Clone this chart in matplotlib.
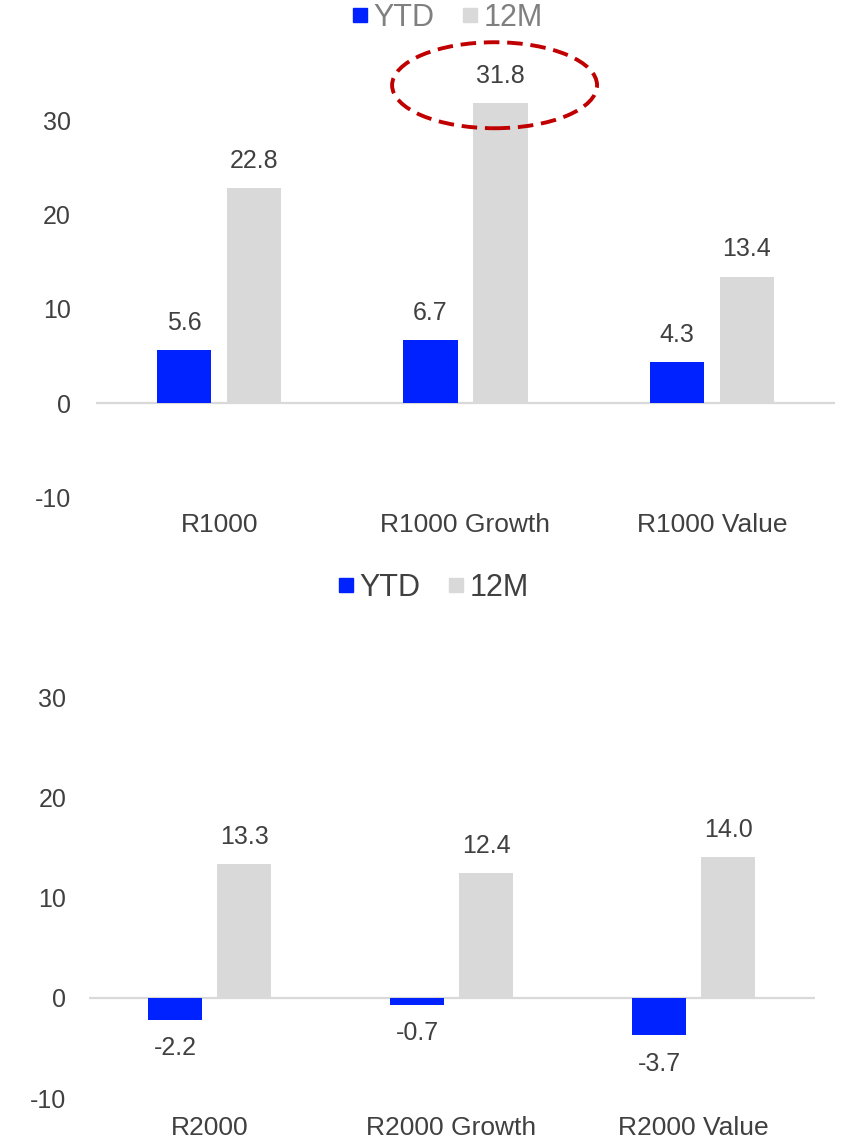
import numpy as np
import matplotlib.pyplot as plt
from matplotlib.patches import Ellipse
from matplotlib.lines import Line2D

plt.rcParams['font.family'] = ['Liberation Sans', 'DejaVu Sans']
plt.rcParams['axes.unicode_minus'] = False

# Data.
large_caps = ['R1000', 'R1000 Growth', 'R1000 Value']
large_ytd = [5.6, 6.7, 4.3]
large_12m = [22.8, 31.8, 13.4]

small_caps = ['R2000', 'R2000 Growth', 'R2000 Value']
small_ytd = [-2.2, -0.7, -3.7]
small_12m = [13.3, 12.4, 14.0]

yticks = [-10, 0, 10, 20, 30]

blue = '#0022FF'
grey = '#D9D9D9'
text_col = '#404040'

W, H = 841, 1144
fig = plt.figure(figsize=(W / 100, H / 100), dpi=100)

ax1 = fig.add_axes([96 / W, 1 - 497.3 / H, 739 / W, 452.6 / H])
ax2 = fig.add_axes([88.5 / W, 1 - 1098 / H, 726 / W, 441 / H])


def draw_panel(ax, cats, ytd, m12, ymax, width, off, ypad, xpad):
    x = np.arange(len(cats))
    ax.bar(x - off, ytd, width, color=blue, zorder=2)
    ax.bar(x + off, m12, width, color=grey, zorder=2)
    ax.axhline(0, color=grey, lw=1.6, zorder=1)
    for xi, v in zip(x - off, ytd):
        ax.annotate('{:.1f}'.format(v), (xi, v), xytext=(0, 11 if v >= 0 else -12),
                    textcoords='offset points', ha='center',
                    va='bottom' if v >= 0 else 'top', fontsize=18, color=text_col)
    for xi, v in zip(x + off, m12):
        ax.annotate('{:.1f}'.format(v), (xi, v), xytext=(0, 11),
                    textcoords='offset points', ha='center', va='bottom',
                    fontsize=18, color=text_col)
    ax.set_xlim(-0.5, len(cats) - 0.5)
    ax.set_ylim(-10, ymax)
    ax.set_yticks(yticks)
    ax.set_xticks(x)
    ax.set_xticklabels(cats)
    ax.tick_params(axis='y', length=0, pad=xpad, labelsize=18, labelcolor=text_col)
    ax.tick_params(axis='x', length=0, pad=ypad, labelsize=19, labelcolor=text_col)
    for s in ax.spines.values():
        s.set_visible(False)


draw_panel(ax1, large_caps, large_ytd, large_12m, 38, 0.22, 0.142, 11, 18)
draw_panel(ax2, small_caps, small_ytd, small_12m, 34, 0.223, 0.1426, 13, 16)

# Highlight the R1000 Growth 12M value.
ax1.add_patch(Ellipse((1.118, 33.7), 0.832, 9.12, fill=False, edgecolor='#C00000',
                      lw=2.8, linestyle=(0, (4, 2)), clip_on=False, zorder=3))

handles = [Line2D([], [], marker='s', ls='none', color=blue, markersize=10),
           Line2D([], [], marker='s', ls='none', color=grey, markersize=10)]
fig.legend(handles, ['YTD', '12M'], loc='center', bbox_to_anchor=(446 / W, 1 - 18 / H),
           ncol=2, frameon=False, fontsize=22, labelcolor='#808080',
           handletextpad=0.1, columnspacing=0.8, handlelength=0.7)
fig.legend(handles, ['YTD', '12M'], loc='center', bbox_to_anchor=(432 / W, 1 - 588 / H),
           ncol=2, frameon=False, fontsize=22, labelcolor=text_col,
           handletextpad=0.1, columnspacing=0.8, handlelength=0.7)

fig.savefig('out.png', dpi=100, facecolor='white')
